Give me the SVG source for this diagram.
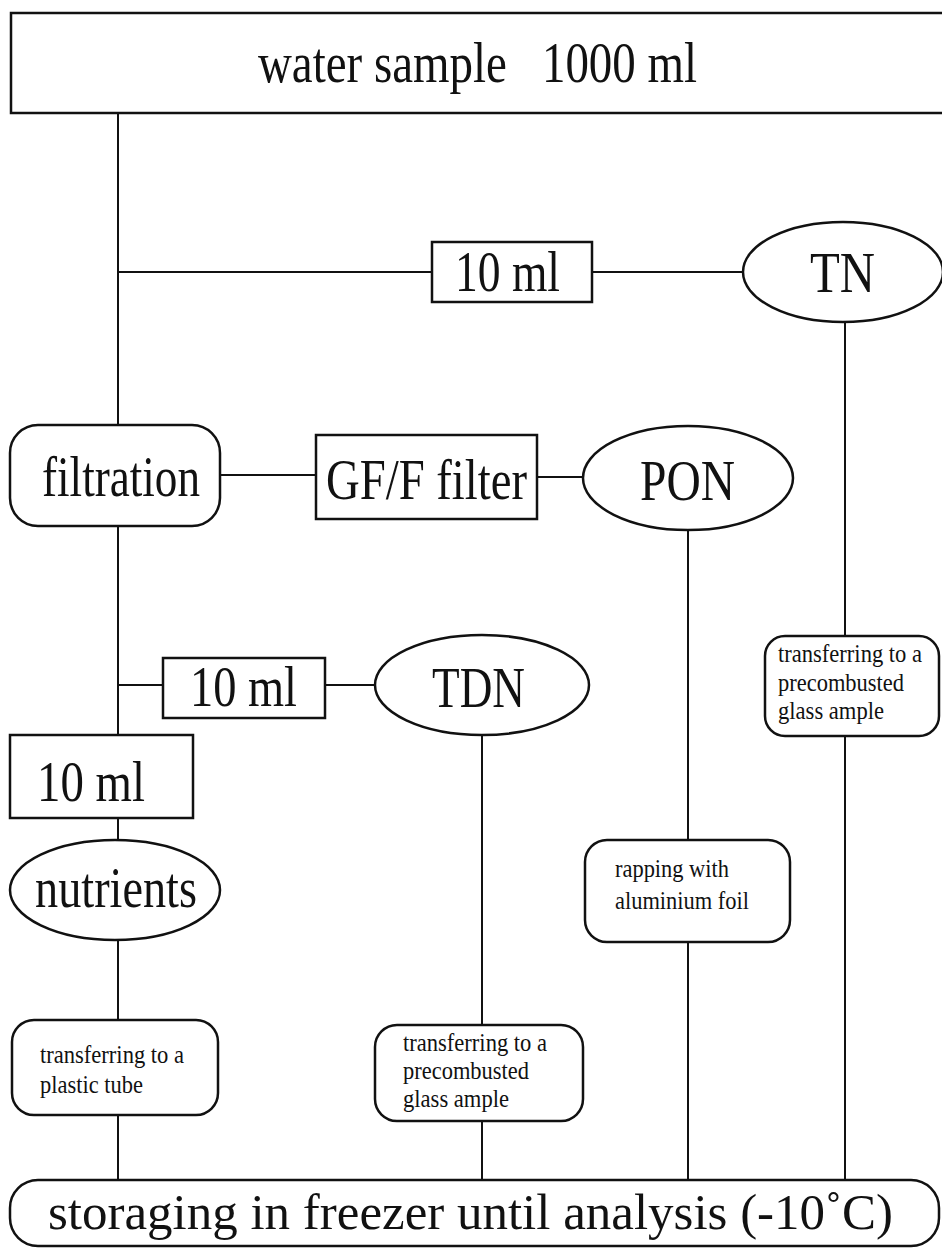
<svg xmlns="http://www.w3.org/2000/svg" width="942" height="1248" viewBox="0 0 942 1248">
<style>
.box{fill:#fff;stroke:#111;stroke-width:2.5}
.ln{stroke:#111;stroke-width:2;fill:none}
.big{font-family:"Liberation Serif","Times New Roman",serif;font-size:56px;fill:#111;white-space:pre}
.sm{font-family:"Liberation Serif","Times New Roman",serif;font-size:25px;fill:#111}
</style>
<rect width="942" height="1248" fill="#fff"/>
<g id="connectors">
<line class="ln" x1="118" y1="113" x2="118" y2="425"/>
<line class="ln" x1="118" y1="272" x2="432" y2="272"/>
<line class="ln" x1="592" y1="272" x2="743" y2="272"/>
<line class="ln" x1="845" y1="322" x2="845" y2="636"/>
<line class="ln" x1="845" y1="736" x2="845" y2="1180"/>
<line class="ln" x1="220" y1="475" x2="316" y2="475"/>
<line class="ln" x1="537" y1="477" x2="583" y2="477"/>
<line class="ln" x1="688" y1="530" x2="688" y2="840"/>
<line class="ln" x1="688" y1="942" x2="688" y2="1180"/>
<line class="ln" x1="118" y1="526" x2="118" y2="735"/>
<line class="ln" x1="118" y1="685" x2="163" y2="685"/>
<line class="ln" x1="325" y1="685" x2="375" y2="685"/>
<line class="ln" x1="482" y1="735" x2="482" y2="1025"/>
<line class="ln" x1="482" y1="1121" x2="482" y2="1180"/>
<line class="ln" x1="118" y1="818" x2="118" y2="840"/>
<line class="ln" x1="118" y1="940" x2="118" y2="1020"/>
<line class="ln" x1="118" y1="1115" x2="118" y2="1180"/>
</g>
<g id="water-sample">
<rect class="box" x="11" y="13" width="960" height="100"/>
<text class="big" x="258" y="82" textLength="439" lengthAdjust="spacingAndGlyphs">water sample   1000 ml</text>
</g>
<g id="tn-10ml">
<rect class="box" x="432" y="242" width="160" height="60"/>
<text class="big" x="455" y="291" textLength="105" lengthAdjust="spacingAndGlyphs">10 ml</text>
</g>
<g id="tn">
<ellipse class="box" cx="843" cy="272" rx="100" ry="50"/>
<text class="big" x="810" y="292" textLength="65" lengthAdjust="spacingAndGlyphs">TN</text>
</g>
<g id="tn-transfer">
<rect class="box" x="765" y="636" width="174" height="100" rx="20"/>
<text class="sm" x="778" y="662" textLength="144" lengthAdjust="spacingAndGlyphs">transferring to a</text>
<text class="sm" x="778" y="691" textLength="126" lengthAdjust="spacingAndGlyphs">precombusted</text>
<text class="sm" x="778" y="719" textLength="106" lengthAdjust="spacingAndGlyphs">glass ample</text>
</g>
<g id="filtration">
<rect class="box" x="10" y="425" width="210" height="101" rx="28"/>
<text class="big" x="42" y="496" textLength="158" lengthAdjust="spacingAndGlyphs">filtration</text>
</g>
<g id="gff-filter">
<rect class="box" x="316" y="435" width="221" height="84"/>
<text class="big" x="326" y="499" textLength="201" lengthAdjust="spacingAndGlyphs">GF/F filter</text>
</g>
<g id="pon">
<ellipse class="box" cx="688" cy="478" rx="105" ry="52"/>
<text class="big" x="640" y="500" textLength="95" lengthAdjust="spacingAndGlyphs">PON</text>
</g>
<g id="pon-rapping">
<rect class="box" x="585" y="840" width="205" height="102" rx="22"/>
<text class="sm" x="615" y="877" textLength="114" lengthAdjust="spacingAndGlyphs">rapping with</text>
<text class="sm" x="615" y="909" textLength="134" lengthAdjust="spacingAndGlyphs">aluminium foil</text>
</g>
<g id="tdn-10ml">
<rect class="box" x="163" y="658" width="162" height="60"/>
<text class="big" x="190" y="706" textLength="107" lengthAdjust="spacingAndGlyphs">10 ml</text>
</g>
<g id="tdn">
<ellipse class="box" cx="482" cy="685" rx="107" ry="50"/>
<text class="big" x="432" y="707" textLength="93" lengthAdjust="spacingAndGlyphs">TDN</text>
</g>
<g id="tdn-transfer">
<rect class="box" x="375" y="1025" width="208" height="96" rx="22"/>
<text class="sm" x="403" y="1051" textLength="144" lengthAdjust="spacingAndGlyphs">transferring to a</text>
<text class="sm" x="403" y="1079" textLength="126" lengthAdjust="spacingAndGlyphs">precombusted</text>
<text class="sm" x="403" y="1107" textLength="106" lengthAdjust="spacingAndGlyphs">glass ample</text>
</g>
<g id="nutrients-10ml">
<rect class="box" x="10" y="735" width="183" height="83"/>
<text class="big" x="37" y="801" textLength="108" lengthAdjust="spacingAndGlyphs">10 ml</text>
</g>
<g id="nutrients">
<ellipse class="box" cx="115" cy="890" rx="105" ry="50"/>
<text class="big" x="35" y="907" textLength="162" lengthAdjust="spacingAndGlyphs">nutrients</text>
</g>
<g id="plastic-transfer">
<rect class="box" x="12" y="1020" width="206" height="95" rx="22"/>
<text class="sm" x="40" y="1063" textLength="144" lengthAdjust="spacingAndGlyphs">transferring to a</text>
<text class="sm" x="40" y="1093" textLength="103" lengthAdjust="spacingAndGlyphs">plastic tube</text>
</g>
<g id="storage">
<rect class="box" x="10" y="1180" width="929" height="66" rx="28"/>
<text class="big" x="48" y="1229" textLength="845" lengthAdjust="spacingAndGlyphs" style="font-size:50px">storaging in freezer until analysis (-10˚C)</text>
</g>
</svg>
